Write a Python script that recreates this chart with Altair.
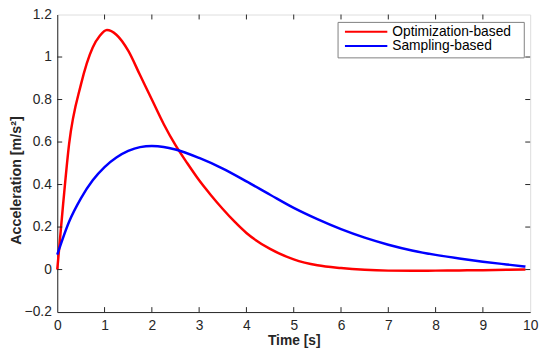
import altair as alt
import pandas as pd

t_opt = [0, 0.125, 0.25, 0.5, 0.75, 0.9, 1.05, 1.25, 1.5, 1.75, 2.0, 2.25, 2.5, 2.75, 3.0, 3.25,
         3.5, 3.75, 4.0, 4.5, 5.0, 5.5, 6.0, 6.5, 7.0, 7.5, 8.0, 8.5, 9.0, 9.5, 9.9]
opt = [0.0, 0.31, 0.59, 0.87, 1.045, 1.1, 1.127, 1.105, 1.03, 0.915, 0.8, 0.685, 0.585, 0.5, 0.42, 0.35,
       0.285, 0.225, 0.172, 0.097, 0.048, 0.02, 0.007, -0.001, -0.005, -0.006, -0.005, -0.004, -0.003, -0.001, 0.0]
t_samp = [0, 0.25, 0.5, 0.75, 1.0, 1.25, 1.5, 1.75, 2.0, 2.25, 2.5, 3.0, 3.5, 4.0, 4.5, 5.0, 5.5,
          6.0, 6.5, 7.0, 7.5, 8.0, 8.5, 9.0, 9.5, 9.9]
samp = [0.07, 0.225, 0.335, 0.42, 0.482, 0.527, 0.558, 0.576, 0.581, 0.577, 0.565, 0.525, 0.475, 0.415, 0.352, 0.29, 0.237,
        0.19, 0.15, 0.117, 0.09, 0.069, 0.052, 0.037, 0.024, 0.014]
series = ["Optimization-based", "Sampling-based"]
colors = ["#ff0000", "#0000ff"]
xticks = [0, 1, 2, 3, 4, 5, 6, 7, 8, 9, 10]
yticks = [-0.2, 0, 0.2, 0.4, 0.6, 0.8, 1.0, 1.2]

df = pd.DataFrame({
    "t": t_opt + t_samp,
    "v": opt + samp,
    "s": [series[0]] * len(t_opt) + [series[1]] * len(t_samp),
})

W, H = 480, 302
font = "Liberation Sans"
ink = "#262626"

xs = alt.Scale(domain=[0, 10], nice=False)
ys = alt.Scale(domain=[-0.2, 1.2], nice=False)

lines = alt.Chart(df).mark_line(strokeWidth=2.5, interpolate="monotone").encode(
    x=alt.X("t:Q", scale=xs, title="Time [s]",
            axis=alt.Axis(values=xticks, tickSize=0, labelPadding=7, labelFontSize=14,
                          labelColor=ink, titleFontSize=14, titleFontWeight="bold",
                          titleColor=ink, domainColor=ink, titlePadding=1,
                          grid=False, labelFont=font, titleFont=font, labelFlush=False,
                          format="d")),
    y=alt.Y("v:Q", scale=ys, title="Acceleration [m/s²]",
            axis=alt.Axis(values=yticks, tickSize=0, labelPadding=6, labelFontSize=14,
                          labelColor=ink, titleFontSize=14.5, titleFontWeight="bold",
                          titleColor=ink, domainColor=ink, titlePadding=1, titleY=168,
                          grid=False, labelFont=font, titleFont=font, labelFlush=False,
                          labelExpr="datum.value == 0 ? '0' : (datum.value == 1 ? '1' : format(datum.value, '.1f'))")),
    color=alt.Color("s:N", scale=alt.Scale(domain=series, range=colors), sort=series, legend=None),
)

xt = pd.DataFrame({"x": xticks[1:-1]})
yt = pd.DataFrame({"y": yticks[1:-1]})
tick_style = dict(color=ink, strokeWidth=1)
xb = alt.Chart(xt).mark_rule(**tick_style).encode(x=alt.X("x:Q", scale=xs), y=alt.value(H), y2=alt.value(H - 5))
xtp = alt.Chart(xt).mark_rule(**tick_style).encode(x=alt.X("x:Q", scale=xs), y=alt.value(0), y2=alt.value(5))
yl = alt.Chart(yt).mark_rule(**tick_style).encode(y=alt.Y("y:Q", scale=ys), x=alt.value(0), x2=alt.value(5))
yr = alt.Chart(yt).mark_rule(**tick_style).encode(y=alt.Y("y:Q", scale=ys), x=alt.value(W), x2=alt.value(W - 5))

# legend box
one = pd.DataFrame({"k": [0]})
box = alt.Chart(one).mark_rect(fill="white", stroke="#7f7f7f", strokeWidth=1).encode(
    x=alt.value(285), x2=alt.value(474), y=alt.value(8), y2=alt.value(44))
legend_layers = [box]
for i, (name, col) in enumerate(zip(series, colors)):
    ld = pd.DataFrame({"name": [name]})
    yy = 17.5 + 14.5 * i
    legend_layers.append(alt.Chart(ld).mark_rule(color=col, strokeWidth=2).encode(
        x=alt.value(292), x2=alt.value(335), y=alt.value(yy)))
    legend_layers.append(alt.Chart(ld).mark_text(align="left", baseline="middle", fontSize=14,
                                                 font=font, color="#000000").encode(
        x=alt.value(340), y=alt.value(yy + 0.5), text="name:N"))

chart = alt.layer(lines, xb, xtp, yl, yr, *legend_layers).properties(
    width=W, height=H,
    autosize=alt.AutoSizeParams(type="none"),
    padding={"left": 50, "top": 4, "right": 12, "bottom": 43},
).configure_view(stroke=ink, strokeWidth=1).configure(background="white")

chart.save("out.html", embed_options={"renderer": "svg", "actions": False})
